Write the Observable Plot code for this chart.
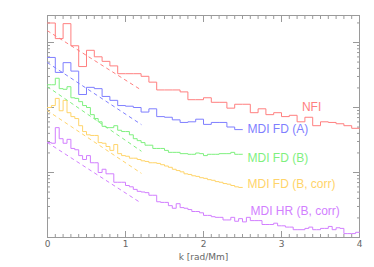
<!DOCTYPE html>
<html><head><meta charset="utf-8">
<script src="https://cdn.jsdelivr.net/npm/d3@7"></script>
<script src="https://cdn.jsdelivr.net/npm/@observablehq/plot@0.6"></script>
<style>body{margin:0;background:#fff}</style>
</head><body><div id="chart"></div>
<script>
// Values are log10 of power (arbitrary units), one per k-bin.
const nfiBin = 0.1;
const nfiLog = [3.30,3.06,3.29,2.95,2.63,2.88,2.78,2.71,2.64,2.52,2.52,2.52,2.48,2.39,2.27,2.27,2.27,2.24,2.12,2.12,
  2.15,2.08,2.08,1.99,2.05,2.05,1.92,1.98,1.89,1.92,1.86,1.88,1.78,1.85,1.72,1.78,1.77,1.75,1.72,1.68];
const fdABin = 0.1;
const fdALog = [2.77,2.54,2.69,2.56,2.20,2.31,2.29,2.17,2.11,2.03,2.02,2.00,1.93,1.98,1.86,1.85,1.81,1.77,1.78,1.82,
  1.74,1.77,1.77,1.70,1.66];
const fdBBin = 0.05;
const fdBLog = [2.35,2.35,2.45,2.29,2.28,2.32,2.15,2.14,2.09,2.03,2.00,1.89,1.83,1.78,1.71,1.69,1.69,1.72,1.65,1.63,
  1.63,1.58,1.52,1.49,1.46,1.42,1.42,1.37,1.37,1.37,1.34,1.31,1.31,1.31,1.29,1.29,1.28,1.28,1.30,1.29,
  1.26,1.28,1.28,1.28,1.29,1.29,1.29,1.31,1.28,1.28];
const fdBcBin = 0.05;
const fdBcLog = [2.00,2.03,2.14,1.95,2.11,1.92,1.86,1.83,1.72,1.63,1.58,1.57,1.57,1.46,1.45,1.40,1.34,1.43,1.29,1.26,
  1.25,1.22,1.22,1.20,1.18,1.17,1.15,1.15,1.14,1.12,1.10,1.08,1.05,1.03,1.01,0.98,0.97,0.95,0.94,0.92,
  0.91,0.89,0.88,0.86,0.85,0.83,0.82,0.80,0.78,0.77];
const hrBcBin = 0.05;
const hrBcLog = [1.46,1.45,1.69,1.52,1.45,1.51,1.37,1.35,1.26,1.20,1.26,1.15,1.15,1.00,1.05,0.98,0.98,0.85,0.85,0.85,
  0.80,0.78,0.74,0.71,0.70,0.69,0.65,0.65,0.55,0.54,0.54,0.49,0.45,0.52,0.46,0.45,0.43,0.40,0.40,0.38,
  0.34,0.34,0.32,0.31,0.31,0.27,0.27,0.31,0.25,0.29,0.24,0.31,0.26,0.26,0.26,0.20,0.20,0.20,0.22,0.18,
  0.18,0.16,0.16,0.12,0.12,0.12,0.14,0.16,0.12,0.12,0.14,0.14,0.17,0.12,0.15,0.14,0.06,0.06,0.06,0.08];
// Dashed exponential fits: log10 power at k = fitK[0] and fitK[1]
const fitK = [0, 1.2];
const fitNFI = [3.18, 2.27];
const fitFdA = [2.69, 1.74];
const fitFdB = [2.32, 1.33];
const fitFdBc = [1.95, 0.99];
const fitHrBc = [1.46, 0.53];
const seriesNames = ["NFI","MDI FD (A)","MDI FD (B)","MDI FD (B, corr)","MDI HR (B, corr)"];
const seriesColors = ["#ff7f7f","#7f7fff","#7ff07f","#ffd46a","#d27fff"];
const xTickLabels = [0,1,2,3,4];
const xTitle = "k [rad/Mm]";

function steps(arr, w){
  const pts = arr.map((v,i)=>({x:i*w, y:10**v}));
  pts.push({x:arr.length*w, y:10**arr[arr.length-1]});
  return pts;
}
function fit(a){ return fitK.map((k,i)=>({x:k, y:10**a[i]})); }
const stepData = [steps(nfiLog,nfiBin),steps(fdALog,fdABin),steps(fdBLog,fdBBin),steps(fdBcLog,fdBcBin),steps(hrBcLog,hrBcBin)];
const fitData = [fit(fitNFI),fit(fitFdA),fit(fitFdB),fit(fitFdBc),fit(fitHrBc)];

const yTop = 10**(222/65);
const xMinor = d3.range(0,41).map(i=>i/10);
const yMajor = [1,10,100,1000];
const yMinor = yMajor.flatMap(d=>d3.range(2,10).map(m=>m*d)).filter(v=>v<yTop);
const axisColor = "#9a9a9a";
const blank = () => "";

// label anchors: [series index, point index, dx, dy]
const labelAnchors = [[0,33,-3,-10],[1,25,5,0],[2,50,5,4],[3,50,5,-3],[4,50,8,-11]];
const labelData = labelAnchors.map(([s,i,dx,dy])=>({...stepData[s][i], name:seriesNames[s], color:seriesColors[s], dx, dy}));

const marks = [];
marks.push(Plot.frame({stroke:axisColor}));
for (const anchor of ["bottom","top"]) {
  marks.push(Plot.axisX(xMinor,{anchor, tickSize:-3, tickFormat:blank, stroke:axisColor, label:null}));
  marks.push(Plot.axisX(xTickLabels,{anchor, tickSize:-6, tickFormat:blank, stroke:axisColor, label:null}));
}
for (const anchor of ["left","right"]) {
  marks.push(Plot.axisY(yMinor,{anchor, tickSize:-3, tickFormat:blank, stroke:axisColor, label:null}));
  marks.push(Plot.axisY(yMajor,{anchor, tickSize:-7, tickFormat:blank, stroke:axisColor, label:null}));
}
marks.push(Plot.axisX(xTickLabels,{anchor:"bottom", tickSize:0, tickPadding:3, fontSize:9, fill:"#666",
  fontFamily:"DejaVu Sans", label:null}));
marks.push(Plot.text([xTitle],{frameAnchor:"bottom", text:d=>d, dy:20, lineAnchor:"middle", fontSize:9, fill:"#666", fontFamily:"DejaVu Sans"}));
stepData.forEach((d,i)=>marks.push(Plot.line(d,{x:"x",y:"y",curve:"step-after",stroke:seriesColors[i],strokeWidth:1})));
fitData.forEach((d,i)=>marks.push(Plot.line(d,{x:"x",y:"y",stroke:seriesColors[i],strokeWidth:1,strokeDasharray:"3,4"})));
labelData.forEach(d=>marks.push(Plot.text([d],{x:"x",y:"y",text:"name",fill:d.color,dx:d.dx,dy:d.dy,
  textAnchor:"start",fontSize:12,fontFamily:"Liberation Sans"})));

const chart = Plot.plot({
  width:374, height:267,
  marginLeft:47, marginRight:15, marginTop:15, marginBottom:30,
  style:{background:"#fff", fontFamily:"DejaVu Sans"},
  x:{domain:[0,4], label:null},
  y:{type:"log", domain:[1,yTop], label:null},
  marks
});
document.getElementById("chart").appendChild(chart);
</script></body></html>
